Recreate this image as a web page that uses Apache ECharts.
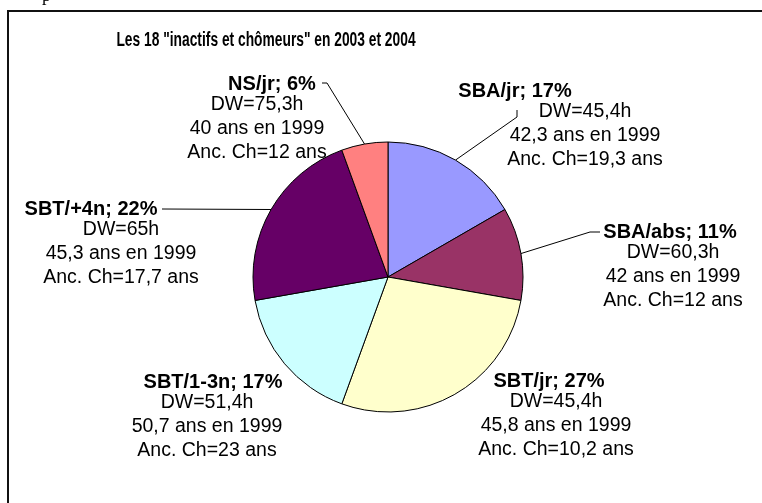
<!DOCTYPE html>
<html>
<head>
<meta charset="utf-8">
<script src="https://cdn.jsdelivr.net/npm/echarts@6/dist/echarts.min.js"></script>
<style>
html,body{margin:0;padding:0;background:#fff;}
#chart{width:762px;height:503px;}
</style>
</head>
<body>
<div id="chart"></div>
<script>
// donnees
var categories = ['SBA/jr', 'SBA/abs', 'SBT/jr', 'SBT/1-3n', 'SBT/+4n', 'NS/jr'];
var counts = [3, 2, 5, 3, 4, 1];
var pctLabels = ['17%', '11%', '27%', '17%', '22%', '6%'];
var dwHours = ['45,4', '60,3', '45,4', '51,4', '65', '75,3'];
var age1999 = ['42,3', '42', '45,8', '50,7', '45,3', '40'];
var ancCh = ['19,3', '12', '10,2', '23', '17,7', '12'];

var colors = ['#9999FF', '#993366', '#FFFFCC', '#CCFFFF', '#660066', '#FF8080'];
var CX = 388, CY = 277, R = 135;
// position des etiquettes : centre des lignes de detail, haut du bloc, decalage du titre gras
var lblPos = [
    {x: 585, y: 82, shift: -70, line: [[517, 117], [517, 110]]},
    {x: 673, y: 223, shift: -3, line: [[590, 232], [600, 232]]},
    {x: 556, y: 372, shift: -7, line: null},
    {x: 207, y: 373, shift: 6, line: null},
    {x: 121, y: 200, shift: -30, line: [[162, 209]]},
    {x: 257, y: 75, shift: 15, line: [[327, 83], [322, 83]]}
];

var total = 0;
for (var i = 0; i < counts.length; i++) total += counts[i];
var midAngles = [], cum = 0;
for (var i = 0; i < counts.length; i++) {
    midAngles.push((cum + counts[i] / 2) / total * Math.PI * 2);
    cum += counts[i];
}

var data = [];
for (var i = 0; i < categories.length; i++) {
    var s = lblPos[i].shift;
    var pad = s >= 0 ? [0, 0, 0, 2 * s] : [0, -2 * s, 0, 0];
    var rich = {
        b: {fontFamily: 'Liberation Sans', fontWeight: 'bold', fontSize: 20, lineHeight: 18, color: '#000', padding: pad},
        t: {fontFamily: 'Liberation Sans', fontSize: 19.5, lineHeight: 24, color: '#000'}
    };
    data.push({
        name: categories[i],
        value: counts[i],
        itemStyle: {color: colors[i]},
        label: {rich: rich},
        labelLine: {show: lblPos[i].line != null}
    });
}

var chart = echarts.init(document.getElementById('chart'));
var option = {
    backgroundColor: '#fff',
    animation: false,
    graphic: [
        {type: 'rect', shape: {x: 8, y: 11, width: 800, height: 520}, style: {fill: 'none', stroke: '#111', lineWidth: 2}},
        {type: 'text', x: 42, y: -13, style: {text: 'p', font: '18px "Liberation Serif"', fill: '#000'}},
        {type: 'group', x: 266, y: 40, scaleX: 1, scaleY: 1.45, children: [
            {type: 'text', x: 0, y: 0, style: {text: 'Les 18 "inactifs et chômeurs" en 2003 et 2004',
                font: 'bold 13.8px "Liberation Sans", Arial, sans-serif', fill: '#000',
                textAlign: 'center', textVerticalAlign: 'middle'}}
        ]}
    ],
    series: [{
        type: 'pie',
        center: [CX, CY],
        radius: R,
        startAngle: 90,
        clockwise: true,
        silent: true,
        itemStyle: {borderColor: '#000', borderWidth: 1},
        emphasis: {disabled: true},
        label: {
            show: true,
            position: 'outside',
            align: 'center',
            formatter: function (p) {
                var i = p.dataIndex;
                return '{b|' + categories[i] + '; ' + pctLabels[i] + '}\n' +
                    '{t|DW=' + dwHours[i] + 'h}\n' +
                    '{t|' + age1999[i] + ' ans en 1999}\n' +
                    '{t|Anc. Ch=' + ancCh[i] + ' ans}';
            }
        },
        labelLine: {lineStyle: {color: '#000', width: 1}},
        labelLayout: function (params) {
            var i = params.dataIndex;
            var lp = lblPos[i];
            var out = {x: lp.x, y: lp.y, align: 'center', verticalAlign: 'top'};
            if (lp.line) {
                var a = midAngles[i];
                out.labelLinePoints = [[CX + R * Math.sin(a), CY - R * Math.cos(a)]].concat(lp.line);
            }
            return out;
        },
        data: data
    }]
};
chart.setOption(option);
</script>
</body>
</html>
